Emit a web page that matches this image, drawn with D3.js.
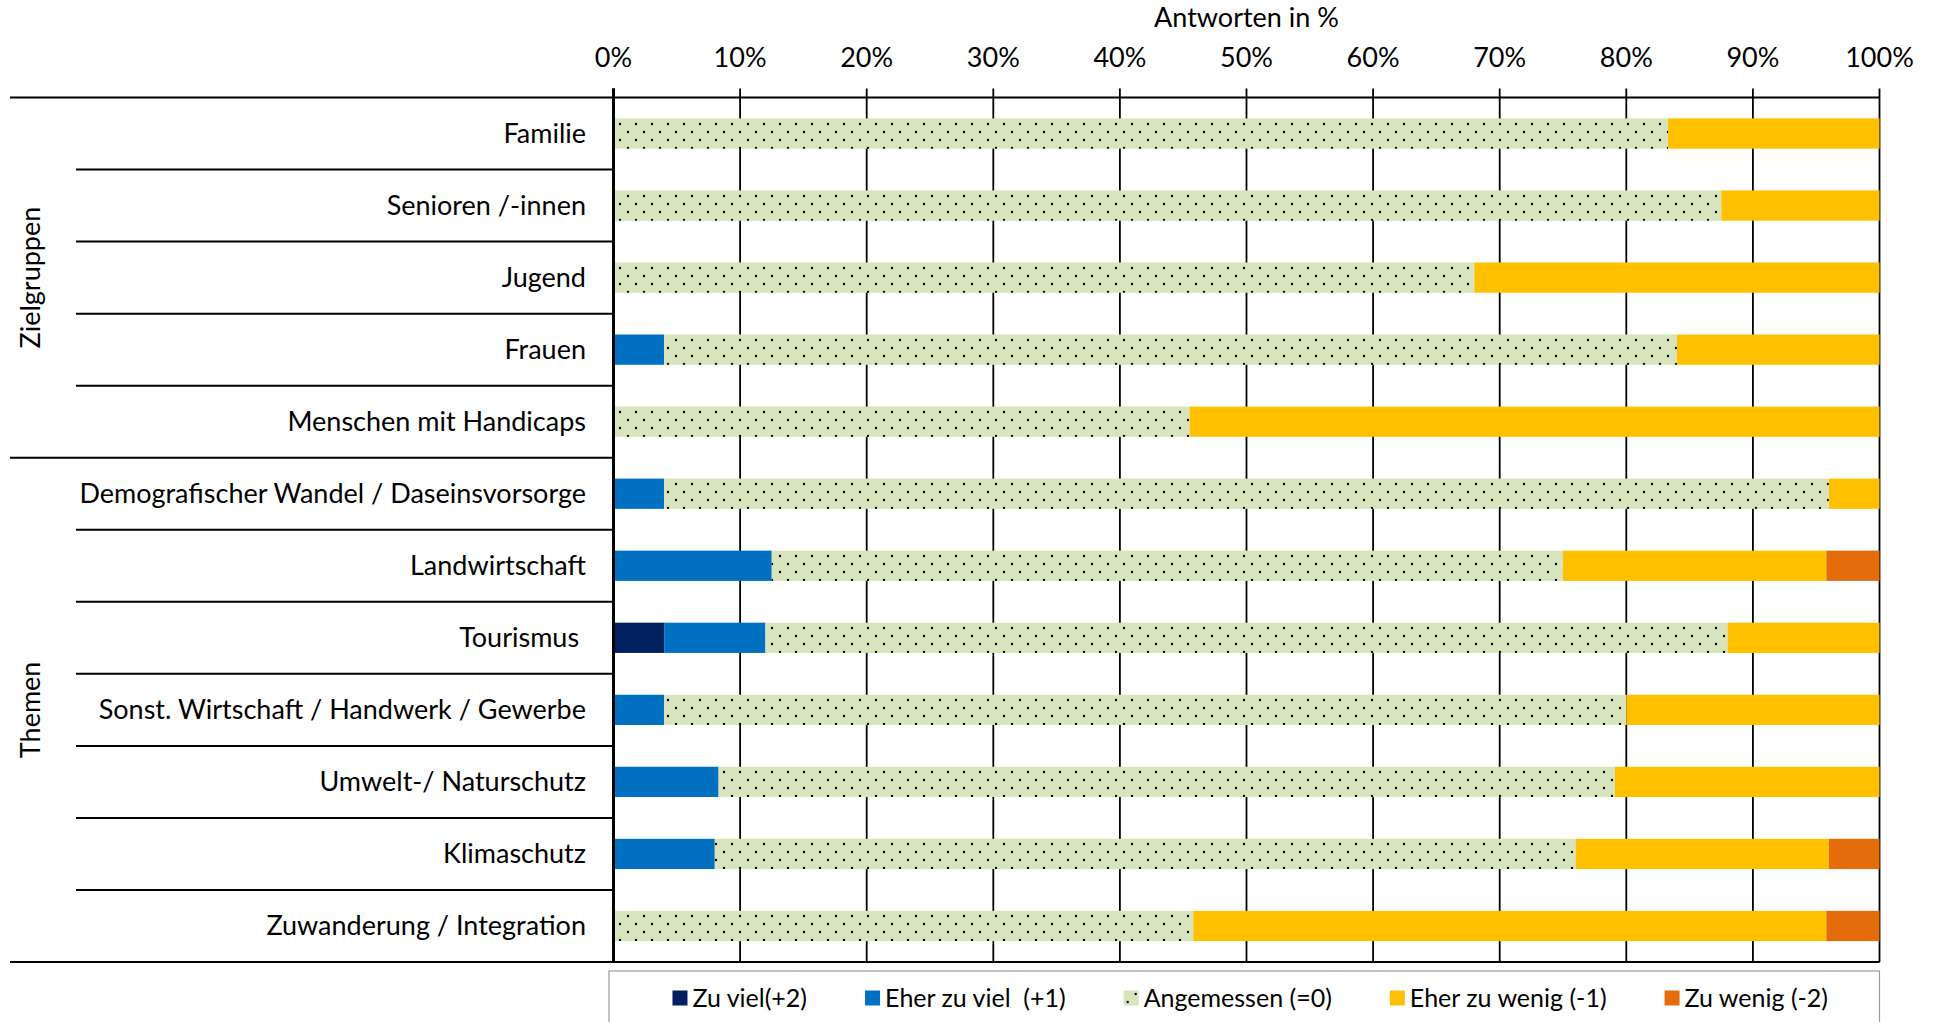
<!DOCTYPE html>
<html>
<head>
<meta charset="utf-8">
<script src="https://cdn.jsdelivr.net/npm/d3@7"></script>
<style>
  body { margin: 0; background: #fff; }
  text { font-family: Lato, "Open Sans", sans-serif; fill: #000; }
</style>
</head>
<body>
<div id="chart-container"></div>
<script>
// Kategorien (von oben nach unten) und Gruppen
const categories = [
    "Familie", "Senioren /-innen", "Jugend", "Frauen", "Menschen mit Handicaps",
    "Demografischer Wandel / Daseinsvorsorge", "Landwirtschaft", "Tourismus ",
    "Sonst. Wirtschaft / Handwerk / Gewerbe", "Umwelt-/ Naturschutz", "Klimaschutz",
    "Zuwanderung / Integration"
];
const groupNames = ["Zielgruppen", "Themen"];
const groupSizes = [5, 7];

// Antworten in %
const zuViel      = [0, 0, 0, 0, 0, 0, 0, 4, 0, 0, 0, 0];
const eherZuViel  = [0, 0, 0, 4, 0, 4, 12.5, 8, 4, 8.3, 8, 0];
const angemessen  = [83.3, 87.5, 68, 80, 45.5, 92, 62.5, 76, 76, 70.8, 68, 45.8];
const eherZuWenig = [16.7, 12.5, 32, 16, 54.5, 4, 20.8, 12, 20, 20.9, 20, 50];
const zuWenig     = [0, 0, 0, 0, 0, 0, 4.2, 0, 0, 0, 4, 4.2];

const seriesKeys = ["Zu viel(+2)", "Eher zu viel  (+1)", "Angemessen (=0)", "Eher zu wenig (-1)", "Zu wenig (-2)"];
const seriesValues = [zuViel, eherZuViel, angemessen, eherZuWenig, zuWenig];
const tickValues = [0, 10, 20, 30, 40, 50, 60, 70, 80, 90, 100];
const axisTitle = "Antworten in %";

const width = 1934;
const height = 1022;
const plotLeft = 613.5;
const plotRight = 1879.5;
const plotTop = 97.5;
const plotBottom = 962;
const outerLeft = 10;
const innerLeft = 76;
const labelX = 586;
const barRatio = 0.42;

const colors = ["#002060", "#0070C0", "url(#dots)", "#FFC000", "#E46C0A"];

const rows = categories.map((c, i) => {
    const row = { category: c };
    seriesKeys.forEach((k, j) => { row[k] = seriesValues[j][i]; });
    return row;
});

const svg = d3.select("#chart-container").append("svg")
    .attr("width", width)
    .attr("height", height);

svg.append("rect").attr("width", width).attr("height", height).attr("fill", "#fff");

// Punktmuster fuer "Angemessen"
const pattern = svg.append("defs").append("pattern")
    .attr("id", "dots")
    .attr("patternUnits", "userSpaceOnUse")
    .attr("width", 16)
    .attr("height", 16);
pattern.append("rect").attr("width", 16).attr("height", 16).attr("fill", "#D8E4BC");
pattern.selectAll("circle")
    .data([[4, 4], [12, 12]])
    .join("circle")
    .attr("cx", d => d[0])
    .attr("cy", d => d[1])
    .attr("r", 1.2)
    .attr("fill", "#000");

const xScale = d3.scaleLinear().domain([0, 100]).range([plotLeft, plotRight]);
const yScale = d3.scaleBand().domain(categories).range([plotTop, plotBottom]).padding(0);
const barH = yScale.bandwidth() * barRatio;

// Gitterlinien
svg.append("g")
    .selectAll("line")
    .data(tickValues)
    .join("line")
    .attr("x1", d => xScale(d))
    .attr("x2", d => xScale(d))
    .attr("y1", plotTop - 9)
    .attr("y2", plotBottom)
    .attr("stroke", "#000")
    .attr("stroke-width", d => d === 0 ? 3 : 1.8);

// Balken
const stacked = d3.stack().keys(seriesKeys)(rows);
svg.append("g")
    .selectAll("g")
    .data(stacked)
    .join("g")
    .attr("fill", (d, i) => colors[i])
    .selectAll("rect")
    .data(d => d.filter(s => s[1] - s[0] > 0))
    .join("rect")
    .attr("x", d => xScale(d[0]))
    .attr("width", d => xScale(d[1]) - xScale(d[0]))
    .attr("y", d => yScale(d.data.category) + (yScale.bandwidth() - barH) / 2)
    .attr("height", barH);

// 0%-Achse oben drauf
svg.append("line")
    .attr("x1", xScale(0)).attr("x2", xScale(0))
    .attr("y1", plotTop - 9).attr("y2", plotBottom)
    .attr("stroke", "#000").attr("stroke-width", 3);

// Trennlinien der Kategorien
const groupStarts = d3.cumsum(groupSizes).slice(0, -1);
svg.append("g")
    .selectAll("line")
    .data(categories.slice(1))
    .join("line")
    .attr("x1", (d, i) => groupStarts.includes(i + 1) ? outerLeft : innerLeft)
    .attr("x2", xScale(0))
    .attr("y1", d => yScale(d))
    .attr("y2", d => yScale(d))
    .attr("stroke", "#000")
    .attr("stroke-width", 2);

svg.append("g")
    .selectAll("line")
    .data([plotTop, plotBottom])
    .join("line")
    .attr("x1", outerLeft)
    .attr("x2", plotRight)
    .attr("y1", d => d)
    .attr("y2", d => d)
    .attr("stroke", "#000")
    .attr("stroke-width", 2);

// Kategorie-Beschriftungen
svg.append("g")
    .selectAll("text")
    .data(categories)
    .join("text")
    .attr("x", labelX)
    .attr("y", d => yScale(d) + yScale.bandwidth() / 2)
    .attr("dy", "0.35em")
    .attr("text-anchor", "end")
    .attr("font-size", 27)
    .style("white-space", "pre")
    .text(d => d);

// Gruppen-Beschriftungen (gedreht)
let start = 0;
groupNames.forEach((g, i) => {
    const first = categories[start];
    const last = categories[start + groupSizes[i] - 1];
    const cy = (yScale(first) + yScale(last) + yScale.bandwidth()) / 2;
    svg.append("text")
        .attr("transform", `translate(31,${cy}) rotate(-90)`)
        .attr("text-anchor", "middle")
        .attr("dy", "0.35em")
        .attr("font-size", 27)
        .text(g);
    start += groupSizes[i];
});

// x-Achse oben
svg.append("g")
    .selectAll("text")
    .data(tickValues)
    .join("text")
    .attr("x", d => xScale(d))
    .attr("y", 58)
    .attr("dy", "0.35em")
    .attr("text-anchor", "middle")
    .attr("font-size", 27)
    .text(d => d + "%");

svg.append("text")
    .attr("x", xScale(50))
    .attr("y", 18)
    .attr("dy", "0.35em")
    .attr("text-anchor", "middle")
    .attr("font-size", 27)
    .text(axisTitle);

// Legende
svg.append("rect")
    .attr("x", 609)
    .attr("y", 971)
    .attr("width", plotRight - 609)
    .attr("height", 80)
    .attr("fill", "#fff")
    .attr("stroke", "#999")
    .attr("stroke-width", 1.2);

const legend = svg.append("g");
const swatch = 15;
const itemGap = 58;
let lx = 0;
seriesKeys.forEach((k, i) => {
    const item = legend.append("g").attr("transform", `translate(${lx},0)`);
    item.append("rect")
        .attr("x", 0)
        .attr("y", -swatch / 2)
        .attr("width", swatch)
        .attr("height", swatch)
        .attr("fill", colors[i]);
    const t = item.append("text")
        .attr("x", swatch + 5)
        .attr("dy", "0.35em")
        .attr("font-size", 25)
        .style("white-space", "pre")
        .text(k);
    lx += swatch + 5 + t.node().getComputedTextLength() + itemGap;
});
const legendWidth = lx - itemGap;
legend.attr("transform", `translate(${(609 + plotRight) / 2 - legendWidth / 2 + 6},998)`);
</script>
</body>
</html>
